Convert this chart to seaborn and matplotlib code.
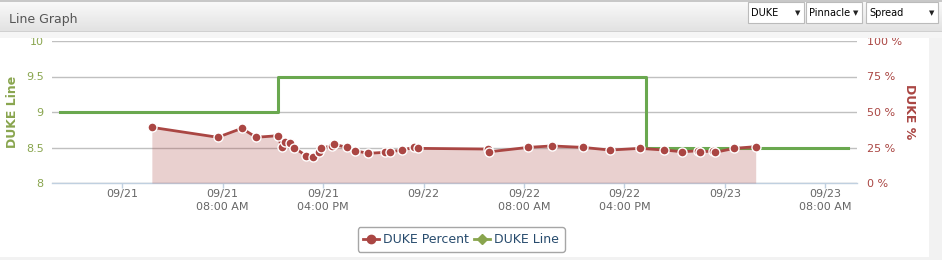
import numpy as np
import pandas as pd
import matplotlib
matplotlib.use("Agg")
import matplotlib.pyplot as plt
from matplotlib.patches import Rectangle
from matplotlib.lines import Line2D
from matplotlib.colors import LinearSegmentedColormap
import seaborn as sns

# ---------------- data ----------------
pct_times = ["2023-09-21 02:22", "2023-09-21 07:37", "2023-09-21 09:32", "2023-09-21 10:40",
             "2023-09-21 12:24", "2023-09-21 12:43", "2023-09-21 12:59", "2023-09-21 13:23",
             "2023-09-21 13:42", "2023-09-21 14:39", "2023-09-21 15:10", "2023-09-21 15:39",
             "2023-09-21 15:51", "2023-09-21 16:41", "2023-09-21 16:53", "2023-09-21 17:53",
             "2023-09-21 18:33", "2023-09-21 19:37", "2023-09-21 20:56", "2023-09-21 21:20",
             "2023-09-21 22:16", "2023-09-21 23:16", "2023-09-21 23:35", "2023-09-22 05:10",
             "2023-09-22 05:15", "2023-09-22 08:21", "2023-09-22 10:13", "2023-09-22 12:40",
             "2023-09-22 14:51", "2023-09-22 17:14", "2023-09-22 19:11", "2023-09-22 20:37",
             "2023-09-22 21:53", "2023-09-22 22:01", "2023-09-22 23:05", "2023-09-22 23:13",
             "2023-09-23 00:45", "2023-09-23 02:27"]
pct_values = [39.2, 32.2, 38.5, 32.2, 33.3, 25.1, 29.1, 28.0, 24.9, 19.2, 18.1, 22.0,
              24.4, 26.3, 27.3, 25.1, 22.7, 20.9, 21.6, 22.0, 23.2, 25.1, 24.4, 23.9,
              22.0, 25.1, 26.1, 25.1, 23.2, 24.4, 23.2, 22.0, 22.7, 22.0, 22.5, 21.6,
              24.4, 25.6]

line_times = ["2023-09-20 19:04", "2023-09-21 12:25", "2023-09-22 17:43", "2023-09-23 09:48"]
line_values = [9.0, 9.5, 8.5, 8.5]

tick_times = ["2023-09-21 00:00", "2023-09-21 08:00", "2023-09-21 16:00", "2023-09-22 00:00",
              "2023-09-22 08:00", "2023-09-22 16:00", "2023-09-23 00:00", "2023-09-23 08:00"]
tick_labels = ["09/21", "09/21\n08:00 AM", "09/21\n04:00 PM", "09/22",
               "09/22\n08:00 AM", "09/22\n04:00 PM", "09/23", "09/23\n08:00 AM"]

left_ticks = [8, 8.5, 9, 9.5, 10]
left_labels = ["8", "8.5", "9", "9.5", "10"]
right_ticks = [0, 25, 50, 75, 100]
right_labels = ["0 %", "25 %", "50 %", "75 %", "100 %"]

x_range = ["2023-09-20 18:25", "2023-09-23 10:31"]

RED = "#AA4643"
GREEN = "#6AA84F"
GREEN_TXT = "#89A54E"

df_pct = pd.DataFrame({"time": pd.to_datetime(pct_times), "pct": pct_values})
df_line = pd.DataFrame({"time": pd.to_datetime(line_times), "line": line_values})

# ---------------- figure ----------------
W, H = 942, 260
plt.rcParams["font.family"] = ["DejaVu Sans"]
fig = plt.figure(figsize=(W / 100, H / 100), dpi=100)
fig.patch.set_facecolor("white")


def fx(px):
    return px / W


def fy(py):
    return 1 - py / H


ax = fig.add_axes([fx(52), fy(183), fx(857) - fx(52), fy(41) - fy(183)])
ax2 = ax.twinx()

# green step line (left axis)
sns.lineplot(data=df_line, x="time", y="line", ax=ax, color=GREEN, linewidth=2.2,
             drawstyle="steps-post", legend=False)

# red percent series (right axis)
ax2.fill_between(df_pct["time"], df_pct["pct"], 0, color=RED, alpha=0.25, lw=0, zorder=1)
sns.lineplot(data=df_pct, x="time", y="pct", ax=ax2, color=RED, linewidth=2,
             marker="o", markersize=6.5, markeredgecolor="white", markeredgewidth=1,
             legend=False, zorder=3)

xl = pd.to_datetime(x_range)
for a in (ax, ax2):
    a.set_xlim(xl[0], xl[1])
    for s in a.spines.values():
        s.set_visible(False)
    a.set_xlabel("")
    a.set_ylabel("")

ax.set_ylim(8, 10)
ax2.set_ylim(0, 100)

ax.set_yticks(left_ticks)
ax.set_yticklabels(left_labels)
ax2.set_yticks(right_ticks)
ax2.set_yticklabels(right_labels)
ax.tick_params(axis="y", length=0, pad=6, labelsize=8, labelcolor=GREEN_TXT)
ax2.tick_params(axis="y", length=0, pad=7, labelsize=8, labelcolor=RED)

ax.set_xticks(pd.to_datetime(tick_times))
ax.set_xticklabels(tick_labels)
ax.tick_params(axis="x", length=3.5, width=1, color="#C0D0E0", pad=0.5, labelsize=8,
               labelcolor="#666666")
ax2.tick_params(axis="x", length=0)

ax.grid(axis="y", color="#C0C0C0", linewidth=1)
ax.grid(axis="x", visible=False)
ax.set_axisbelow(True)
ax.spines["bottom"].set_visible(True)
ax.spines["bottom"].set_color("#C0D0E0")
ax.spines["bottom"].set_linewidth(1)
ax.patch.set_visible(False)
ax2.patch.set_visible(False)

for lab in ax.get_xticklabels():
    lab.set_linespacing(1.45)

fig.text(fx(13), fy(112), "DUKE Line", rotation=90, ha="center", va="center",
         color=GREEN_TXT, fontsize=9, fontweight="bold")
fig.text(fx(910), fy(112), "DUKE %", rotation=-90, ha="center", va="center",
         color=RED, fontsize=9, fontweight="bold")

# legend
handles = [Line2D([], [], color=RED, lw=2, marker="o", markersize=6),
           Line2D([], [], color="#89A54E", lw=2, marker="D", markersize=5)]
leg = fig.legend(handles, ["DUKE Percent", "DUKE Line"], loc="center",
                 bbox_to_anchor=(fx(461), fy(239.5)), ncol=2, frameon=True,
                 fancybox=True, edgecolor="#909090", fontsize=9, handlelength=1.3,
                 handletextpad=0.3, columnspacing=0.4, borderpad=0.45)
leg.get_frame().set_linewidth(1)
for t in leg.get_texts():
    t.set_color("#274B6D")

# ---------------- page chrome ----------------
fig.add_artist(Rectangle((fx(929), 0), 1 - fx(929), 1, transform=fig.transFigure,
                         facecolor="#F2F2F2", edgecolor="none", zorder=0))
fig.add_artist(Rectangle((0, 0), 1, 3 / H, transform=fig.transFigure,
                         facecolor="#F2F2F2", edgecolor="none", zorder=0))

# header bar on top
hax = fig.add_axes([0, fy(38), 1, 38 / H])
hax.set_zorder(20)
hax.set_xlim(0, W)
hax.set_ylim(38, 0)
hax.axis("off")
grad = np.linspace(0, 1, 64).reshape(-1, 1)
cmap = LinearSegmentedColormap.from_list("hdr", ["#FAFAFA", "#E2E2E2"])
hax.imshow(grad, extent=(0, W, 31, 1), aspect="auto", cmap=cmap, zorder=0)
hax.add_patch(Rectangle((0, 0), W, 2, facecolor="#C8C8C8", edgecolor="none", zorder=1))
hax.add_patch(Rectangle((0, 31), W, 1, facecolor="#D0D0D0", edgecolor="none", zorder=1))
hax.add_patch(Rectangle((0, 32), W, 6, facecolor="#F5F5F5", edgecolor="none", zorder=1))
hax.text(9, 19, "Line Graph", ha="left", va="center", fontsize=9, color="#555555", zorder=2)

boxes = [(748, 804, "DUKE"), (806, 862, "Pinnacle"), (866, 938, "Spread")]
for x0, x1, label in boxes:
    hax.add_patch(Rectangle((x0, 2), x1 - x0, 21, facecolor="white", edgecolor="#BBBBBB",
                            lw=0.8, zorder=3))
    hax.text(x0 + 3, 12.5, label, ha="left", va="center", fontsize=7, color="#000000",
             zorder=4)
    hax.text(x1 - 6, 13, "▼", ha="center", va="center", fontsize=5, color="#222222",
             zorder=4)

fig.savefig("out.png", dpi=100, facecolor=fig.get_facecolor())
